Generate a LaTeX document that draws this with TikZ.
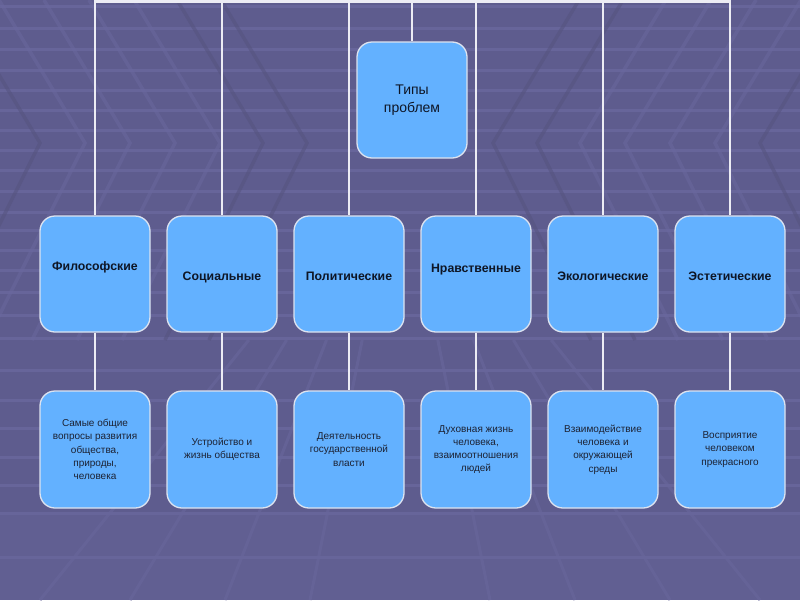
\documentclass[tikz,border=0pt]{standalone}
\usepackage{fontspec}
\setmainfont{Liberation Sans}
\definecolor{bgc}{HTML}{5E5C8E}
\definecolor{stripec}{HTML}{67659A}
\definecolor{chevd}{HTML}{55537F}
\definecolor{chevl}{HTML}{6A689E}
\definecolor{boxfill}{HTML}{63B1FF}
\definecolor{boxedge}{HTML}{DCE3F0}
\definecolor{connwhite}{HTML}{ECECF4}
\definecolor{labeltext}{HTML}{0E1626}
\definecolor{desctext}{HTML}{1C2233}
\newcommand{\mylbl}[2]{\raisebox{#1}[0pt][0pt]{#2}}
\begin{document}
\begin{tikzpicture}[x=1pt,y=-1pt,
  bx/.style={draw=boxedge, line width=1.3pt, fill=boxfill, rounded corners=15pt,
    minimum width=110pt, minimum height=116pt, inner sep=0pt, align=center},
  rootbox/.style={bx, font=\fontsize{14}{18}\selectfont, text=labeltext},
  cat/.style={bx, font=\bfseries\fontsize{12.3}{14}\selectfont, text=labeltext},
  desc/.style={bx, minimum height=117pt, font=\fontsize{10}{13.3}\selectfont, text=desctext},
  conn/.style={draw=connwhite, line width=2.6pt},
  stripe/.style={draw=stripec, line width=3pt},
  chev/.style={line width=3.5pt, line join=miter, opacity=0.55}]
% background
\fill[bgc] (0,0) rectangle (800,600);
\useasboundingbox (0,0) rectangle (800,600);
\begin{scope}
\clip (0,0) rectangle (800,600);
\fill[stripec, opacity=0.4] (0,515) rectangle (800,600);
\foreach \yy in {6,28,49,70,90,110,130,150,170,191,212,230,250,270,292,315,338,370,400,428,457,485,513,557}
  \draw[stripe] (0,\yy) -- (800,\yy);
\foreach \a/\c in {40/chevd,85/chevl,130/chevl,175/chevl,220/chevl,263/chevd,307/chevd}{
  \draw[chev,\c] (\a-86,0) -- (\a,143) -- (\a-98,340);
  \draw[chev,\c] (800-\a+86,0) -- (800-\a,143) -- (800-\a+98,340);
}
\foreach \bx in {40,130,225,310,490,575,670,760}
  \draw[stripec, line width=3pt, opacity=0.7] ({400+(\bx-400)*0.42},340) -- (\bx,600);
\end{scope}
% nodes
\node[rootbox] (root) at (412,100) {Типы\\проблем};
\node[cat] (c1) at (95,274)  {\mylbl{3.3pt}{Философские}};
\node[cat] (c2) at (222,274) {\mylbl{-6pt}{Социальные}};
\node[cat] (c3) at (349,274) {\mylbl{-6pt}{Политические}};
\node[cat] (c4) at (476,274) {\mylbl{2pt}{Нравственные}};
\node[cat] (c5) at (603,274) {\mylbl{-6pt}{Экологические}};
\node[cat] (c6) at (730,274) {\mylbl{-6pt}{Эстетические}};
\node[desc] (d1) at (95,449.5)  {Самые общие\\вопросы развития\\общества,\\природы,\\человека};
\node[desc] (d2) at (222,449.5) {Устройство и\\жизнь общества};
\node[desc] (d3) at (349,449.5) {Деятельность\\государственной\\власти};
\node[desc] (d4) at (476,449.5) {Духовная жизнь\\человека,\\взаимоотношения\\людей};
\node[desc] (d5) at (603,449.5) {Взаимодействие\\человека и\\окружающей\\среды};
\node[desc] (d6) at (730,449.5) {Восприятие\\человеком\\прекрасного};
% connectors
\coordinate (top) at (0,1.5);
\draw[conn] (c1.north) -- (c1.north |- top) -- (c6.north |- top) -- (c6.north);
\foreach \i in {2,3,4,5}
  \draw[conn] (c\i.north |- top) -- (c\i.north);
\draw[conn] (root.north |- top) -- (root.north);
\foreach \i in {1,...,6}
  \draw[conn] (c\i.south) -- (d\i.north);
\end{tikzpicture}
\end{document}
